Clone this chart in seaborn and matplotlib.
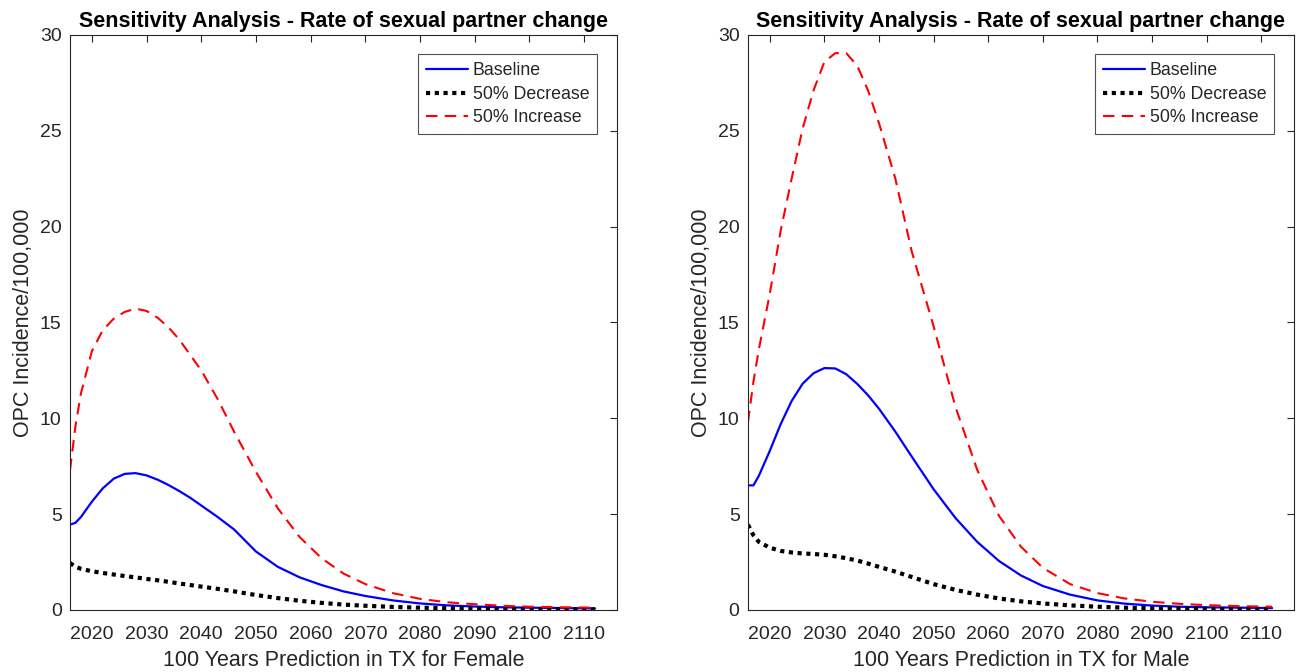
import numpy as np
import pandas as pd
import matplotlib
matplotlib.use("Agg")
import matplotlib.pyplot as plt
import seaborn as sns

years = [2016, 2017, 2018, 2020, 2022, 2024, 2026, 2028, 2030, 2032, 2034, 2036, 2038, 2040,
         2043, 2046, 2050, 2054, 2058, 2062, 2066, 2070, 2075, 2080, 2085, 2090, 2095, 2100, 2106, 2112]

female_baseline = [4.45, 4.55, 4.85, 5.65, 6.35, 6.85, 7.1, 7.14, 7.02, 6.8, 6.52, 6.2, 5.85, 5.45,
                   4.85, 4.2, 3.05, 2.25, 1.7, 1.3, 0.97, 0.73, 0.5, 0.34, 0.24, 0.18, 0.14, 0.12, 0.1, 0.08]
female_decrease = [2.45, 2.25, 2.15, 2.02, 1.93, 1.85, 1.77, 1.7, 1.62, 1.55, 1.47, 1.38, 1.3, 1.22,
                   1.1, 0.97, 0.78, 0.62, 0.48, 0.37, 0.28, 0.22, 0.16, 0.12, 0.09, 0.07, 0.05, 0.04, 0.03, 0.03]
female_increase = [7.3, 9.6, 11.3, 13.5, 14.6, 15.2, 15.55, 15.72, 15.6, 15.25, 14.75, 14.1, 13.3, 12.5,
                   11.0, 9.3, 7.2, 5.3, 3.8, 2.7, 1.9, 1.35, 0.88, 0.58, 0.4, 0.3, 0.22, 0.17, 0.14, 0.12]

male_baseline = [6.5, 6.5, 7.0, 8.3, 9.7, 10.9, 11.8, 12.35, 12.62, 12.6, 12.3, 11.8, 11.2, 10.5,
                 9.3, 8.0, 6.3, 4.8, 3.55, 2.55, 1.8, 1.25, 0.8, 0.5, 0.33, 0.23, 0.17, 0.14, 0.12, 0.1]
male_decrease = [4.45, 3.9, 3.55, 3.25, 3.08, 3.0, 2.95, 2.92, 2.88, 2.8, 2.7, 2.58, 2.42, 2.25,
                 2.0, 1.72, 1.35, 1.05, 0.8, 0.6, 0.45, 0.34, 0.24, 0.17, 0.12, 0.09, 0.07, 0.06, 0.05, 0.05]
male_increase = [9.8, 11.9, 13.6, 16.5, 19.8, 22.5, 25.1, 27.1, 28.6, 29.05, 29.05, 28.4, 27.1, 25.4,
                 22.5, 18.7, 14.8, 10.6, 7.3, 4.9, 3.3, 2.2, 1.35, 0.88, 0.6, 0.43, 0.32, 0.25, 0.2, 0.17]

series_labels = ["Baseline", "50% Decrease", "50% Increase"]
x_ticks = list(range(2020, 2111, 10))
y_ticks = [0, 5, 10, 15, 20, 25, 30]

sns.set_style("white")
plt.rcParams["font.family"] = ["Liberation Sans", "DejaVu Sans"]
axis_col = "#262626"

fig = plt.figure(figsize=(13.06, 6.72), dpi=100)
ax1 = fig.add_axes([0.0536, 0.0923, 0.4188, 0.8557])
ax2 = fig.add_axes([0.5727, 0.0923, 0.4181, 0.8557])

panels = [
    (ax1, female_baseline, female_decrease, female_increase, "100 Years Prediction in TX for Female"),
    (ax2, male_baseline, male_decrease, male_increase, "100 Years Prediction in TX for Male"),
]

for ax, base, dec, inc, xlab in panels:
    sns.lineplot(x=years, y=base, ax=ax, color="#0000ff", linewidth=1.6, label=series_labels[0])
    sns.lineplot(x=years, y=dec, ax=ax, color="black", linewidth=3.0, linestyle=(0, (1, 1.1)),
                 label=series_labels[1])
    sns.lineplot(x=years, y=inc, ax=ax, color="#ff0000", linewidth=1.5, linestyle=(0, (5.5, 3.5)),
                 label=series_labels[2])
    ax.set_xlim(2016, 2116)
    ax.set_ylim(0, 30)
    ax.set_xticks(x_ticks)
    ax.set_yticks(y_ticks)
    ax.tick_params(direction="in", length=5, width=0.8, top=True, right=True,
                   labelsize=14, colors=axis_col, labeltop=False, labelright=False)
    ax.tick_params(axis="x", pad=11.5)
    ax.tick_params(axis="y", pad=6)
    for sp in ax.spines.values():
        sp.set_color(axis_col)
        sp.set_linewidth(0.8)
    ax.set_xlabel(xlab, fontsize=15.5, color=axis_col, labelpad=5)
    ax.set_ylabel("OPC Incidence/100,000", fontsize=15.5, color=axis_col, labelpad=4)
    ax.set_title("Sensitivity Analysis - Rate of sexual partner change", fontsize=15.5,
                 fontweight="bold", color="black", pad=6)
    leg = ax.legend(loc="upper right", fontsize=12.8, frameon=True, fancybox=False,
                    handlelength=2.4, borderaxespad=1.1, labelspacing=0.36, borderpad=0.45,
                    handletextpad=0.25)
    leg.get_frame().set_edgecolor(axis_col)
    leg.get_frame().set_linewidth(0.8)
    for t in leg.get_texts():
        t.set_color(axis_col)

fig.savefig("out.png", dpi=100)
